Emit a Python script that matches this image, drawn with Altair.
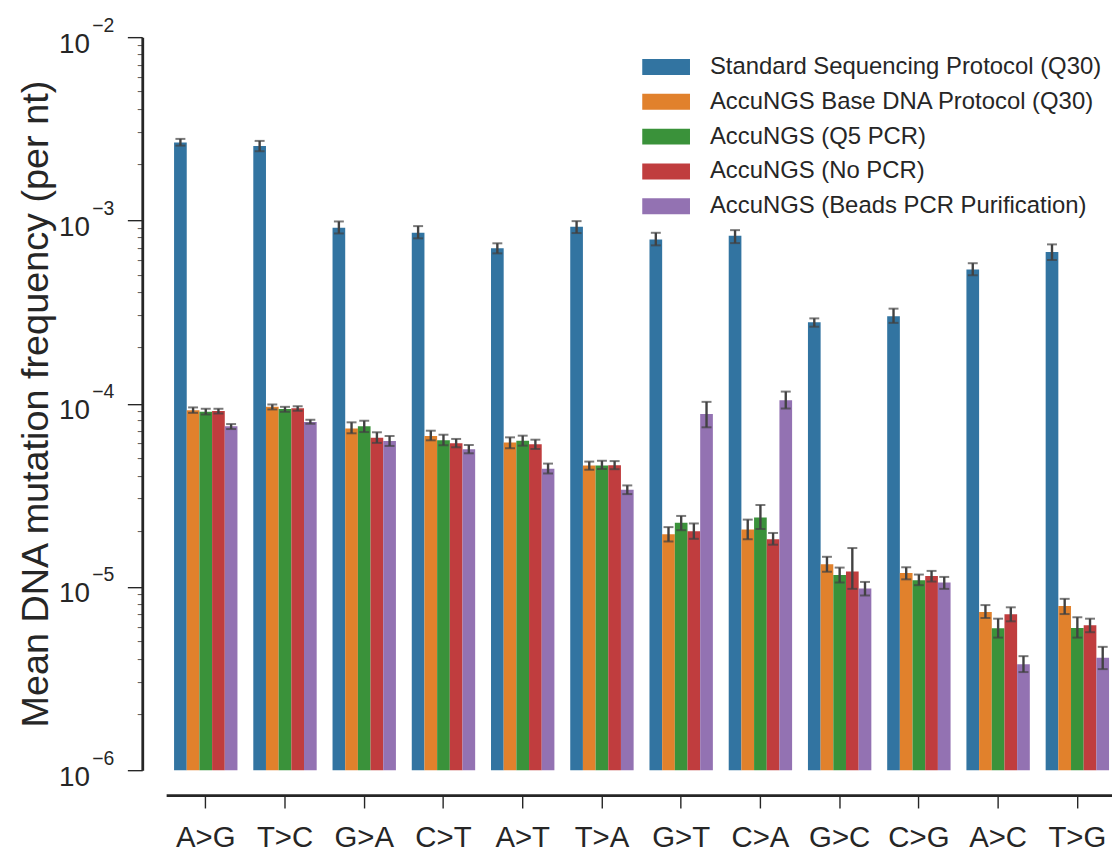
import altair as alt
import pandas as pd

categories = ["A>G", "T>C", "G>A", "C>T", "A>T", "T>A", "G>T", "C>A", "G>C", "C>G", "A>C", "T>G"]
protocols = [
    "Standard Sequencing Protocol (Q30)",
    "AccuNGS Base DNA Protocol (Q30)",
    "AccuNGS (Q5 PCR)",
    "AccuNGS (No PCR)",
    "AccuNGS (Beads PCR Purification)",
]
colors = ["#3274a1", "#e1812c", "#3a923a", "#c03d3e", "#9372b2"]

standard_mean = [2.66e-3, 2.55e-3, 9.12e-4, 8.56e-4, 7.04e-4, 9.23e-4, 7.87e-4, 8.24e-4, 2.78e-4, 3.00e-4, 5.39e-4, 6.73e-4]
standard_lo = [2.56e-3, 2.385e-3, 8.49e-4, 7.98e-4, 6.61e-4, 8.53e-4, 7.31e-4, 7.52e-4, 2.63e-4, 2.76e-4, 5.02e-4, 6.08e-4]
standard_hi = [2.785e-3, 2.716e-3, 9.87e-4, 9.31e-4, 7.50e-4, 9.91e-4, 8.56e-4, 8.85e-4, 2.92e-4, 3.30e-4, 5.84e-4, 7.40e-4]

base_mean = [9.22e-5, 9.61e-5, 7.33e-5, 6.66e-5, 6.13e-5, 4.60e-5, 1.94e-5, 2.06e-5, 1.33e-5, 1.19e-5, 7.29e-6, 7.86e-6]
base_lo = [8.91e-5, 9.30e-5, 6.89e-5, 6.31e-5, 5.71e-5, 4.36e-5, 1.77e-5, 1.82e-5, 1.21e-5, 1.10e-5, 6.77e-6, 7.11e-6]
base_hi = [9.54e-5, 9.90e-5, 7.91e-5, 7.12e-5, 6.55e-5, 4.83e-5, 2.12e-5, 2.33e-5, 1.46e-5, 1.28e-5, 7.96e-6, 8.61e-6]

q5_mean = [9.03e-5, 9.34e-5, 7.52e-5, 6.31e-5, 6.28e-5, 4.60e-5, 2.24e-5, 2.39e-5, 1.163e-5, 1.088e-5, 5.95e-6, 5.97e-6]
q5_lo = [8.73e-5, 9.03e-5, 7.00e-5, 5.93e-5, 5.90e-5, 4.40e-5, 2.04e-5, 2.07e-5, 1.057e-5, 1.022e-5, 5.29e-6, 5.29e-6]
q5_hi = [9.38e-5, 9.61e-5, 8.07e-5, 6.77e-5, 6.69e-5, 4.88e-5, 2.44e-5, 2.80e-5, 1.275e-5, 1.168e-5, 6.71e-6, 6.83e-6]

nopcr_mean = [9.11e-5, 9.45e-5, 6.52e-5, 6.08e-5, 6.00e-5, 4.62e-5, 2.01e-5, 1.82e-5, 1.213e-5, 1.148e-5, 7.09e-6, 6.18e-6]
nopcr_lo = [8.84e-5, 9.14e-5, 6.11e-5, 5.78e-5, 5.66e-5, 4.39e-5, 1.83e-5, 1.70e-5, 9.76e-6, 1.07e-5, 6.49e-6, 5.66e-6]
nopcr_hi = [9.38e-5, 9.69e-5, 6.98e-5, 6.42e-5, 6.36e-5, 4.86e-5, 2.22e-5, 1.97e-5, 1.63e-5, 1.223e-5, 7.74e-6, 6.71e-6]

beads_mean = [7.52e-5, 7.94e-5, 6.26e-5, 5.64e-5, 4.41e-5, 3.39e-5, 8.77e-5, 1.045e-4, 9.80e-6, 1.057e-5, 3.79e-6, 4.11e-6]
beads_lo = [7.27e-5, 7.77e-5, 5.88e-5, 5.36e-5, 4.16e-5, 3.21e-5, 7.43e-5, 9.41e-5, 8.98e-6, 9.76e-6, 3.43e-6, 3.56e-6]
beads_hi = [7.74e-5, 8.17e-5, 6.66e-5, 5.95e-5, 4.71e-5, 3.58e-5, 1.023e-4, 1.164e-4, 1.065e-5, 1.134e-5, 4.19e-6, 4.71e-6]

decade_values = [1e-6, 1e-5, 1e-4, 1e-3, 1e-2]
exponent_labels = ["\u22126", "\u22125", "\u22124", "\u22123", "\u22122"]
minor_tick_values = [
    2e-6, 3e-6, 4e-6, 5e-6, 6e-6, 7e-6, 8e-6, 9e-6,
    2e-5, 3e-5, 4e-5, 5e-5, 6e-5, 7e-5, 8e-5, 9e-5,
    2e-4, 3e-4, 4e-4, 5e-4, 6e-4, 7e-4, 8e-4, 9e-4,
    2e-3, 3e-3, 4e-3, 5e-3, 6e-3, 7e-3, 8e-3, 9e-3,
]

series = [
    (standard_mean, standard_lo, standard_hi),
    (base_mean, base_lo, base_hi),
    (q5_mean, q5_lo, q5_hi),
    (nopcr_mean, nopcr_lo, nopcr_hi),
    (beads_mean, beads_lo, beads_hi),
]
rows = []
for p, (m, lo, hi) in zip(protocols, series):
    for c, mv, lv, hv in zip(categories, m, lo, hi):
        rows.append({"cat": c, "protocol": p, "mean": mv, "lo": lv, "hi": hv})
df = pd.DataFrame(rows)
# one table for all y-axis decorations: decades carry an exponent label, minor ticks do not
tick_df = pd.DataFrame(
    {
        "tv": decade_values + minor_tick_values,
        "exp": exponent_labels + [""] * len(minor_tick_values),
        "kind": ["major"] * len(decade_values) + ["minor"] * len(minor_tick_values),
    }
)

FONT = "Liberation Sans"
INK = "#262626"
ERR = "#424242"
TITLE = "Mean DNA mutation frequency (per nt)"

y_scale = alt.Scale(type="log", domain=[1e-6, 1e-2], nice=False)

major_axis = alt.Axis(
    orient="left",
    values=decade_values,
    labelExpr="'10'",
    tickSize=15,
    tickWidth=1.4,
    tickColor=INK,
    domainWidth=2.8,
    domainColor=INK,
    offset=24,
    grid=False,
    labelFont=FONT,
    labelFontSize=28,
    labelColor=INK,
    labelPadding=38,
    labelBaseline="alphabetic",
    labelOffset=15,
    labelFlush=False,
    labelOverlap=False,
    title=TITLE,
    titleFont=FONT,
    titleFontSize=38,
    titleFontWeight="normal",
    titleColor=INK,
    titlePadding=3,
)

x_enc = alt.X(
    "cat:N",
    sort=categories,
    scale=alt.Scale(range=[0, 956], paddingInner=0.2, paddingOuter=0.1),
    axis=alt.Axis(
        title=None,
        labelAngle=0,
        offset=25,
        domainWidth=2.8,
        domainColor=INK,
        tickSize=13,
        tickWidth=1.4,
        tickColor=INK,
        labelFont=FONT,
        labelFontSize=29.5,
        labelColor=INK,
        labelPadding=16,
    ),
)
xoff_enc = alt.XOffset("protocol:N", sort=protocols, scale=alt.Scale(paddingInner=0, paddingOuter=0))

base = alt.Chart(df)

bars = base.mark_bar().encode(
    x=x_enc,
    xOffset=xoff_enc,
    y=alt.Y("mean:Q", scale=y_scale, axis=major_axis),
    y2=alt.datum(1e-6),
    color=alt.Color(
        "protocol:N",
        sort=protocols,
        scale=alt.Scale(domain=protocols, range=colors),
        legend=alt.Legend(
            orient="none",
            legendX=490.7,
            legendY=18,
            title=None,
            padding=0,
            symbolType="M-3,-1H3V1H-3Z",
            symbolSize=256,
            symbolStrokeWidth=0,
            symbolOpacity=1,
            labelFont=FONT,
            labelFontSize=24,
            labelColor=INK,
            labelOffset=32,
            labelLimit=0,
            rowPadding=11,
        ),
    ),
)

err = base.mark_rule(color=ERR, strokeWidth=2.4).encode(
    x=x_enc,
    xOffset=xoff_enc,
    y=alt.Y("lo:Q", scale=y_scale, axis=major_axis),
    y2="hi:Q",
)
cap_lo = base.mark_tick(color=ERR, orient="horizontal", size=10, thickness=2).encode(
    x=x_enc,
    xOffset=xoff_enc,
    y=alt.Y("lo:Q", scale=y_scale, axis=major_axis),
)
cap_hi = base.mark_tick(color=ERR, orient="horizontal", size=10, thickness=2).encode(
    x=x_enc,
    xOffset=xoff_enc,
    y=alt.Y("hi:Q", scale=y_scale, axis=major_axis),
)

ticks_base = alt.Chart(tick_df)

# exponents of the decade tick labels (superscripts)
exps = ticks_base.mark_text(
    align="left", baseline="alphabetic", dy=-5.5, font=FONT, fontSize=19.5, color=INK
).encode(
    x=alt.value(-74.3),
    y=alt.Y("tv:Q", scale=y_scale, axis=major_axis),
    text="exp:N",
)

# minor log ticks of the y axis: a short horizontal bar next to the offset axis line
minor_ticks = ticks_base.transform_filter(alt.datum.kind == "minor").mark_text(
    text="\u2500", align="right", baseline="middle", font="DejaVu Sans", fontSize=9, color=INK
).encode(
    x=alt.value(-23),
    y=alt.Y("tv:Q", scale=y_scale, axis=major_axis),
)

chart = (
    alt.layer(bars, err, cap_lo, cap_hi, exps, minor_ticks)
    .properties(
        width=945,
        height=737,
        autosize=alt.AutoSizeParams(type="none"),
        padding={"left": 159, "top": 27, "right": 6, "bottom": 90},
        background="white",
    )
    .configure_view(stroke=None)
)

chart.save("out.html", embed_options={"renderer": "svg", "actions": False})
